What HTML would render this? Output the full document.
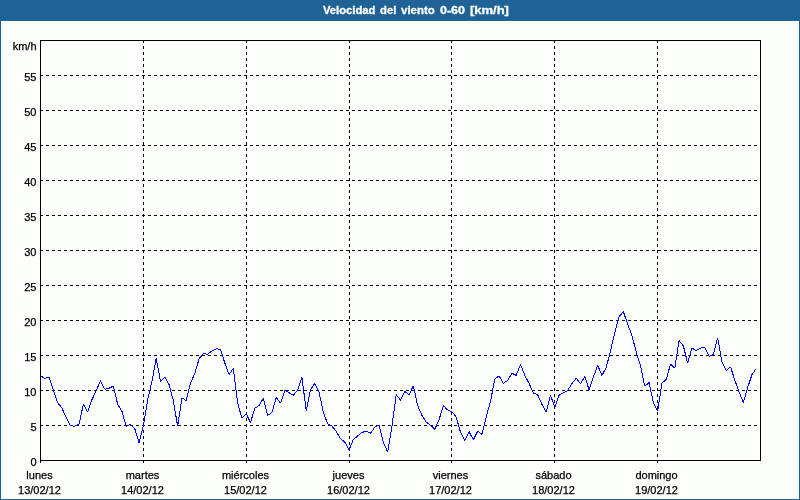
<!DOCTYPE html>
<html><head><meta charset="utf-8"><title>Velocidad del viento</title>
<style>
html,body{margin:0;padding:0;}
body{width:800px;height:500px;overflow:hidden;background:#1e6296;position:relative;font-family:"Liberation Sans","DejaVu Sans",sans-serif;font-size:11px;color:#000;-webkit-text-stroke:0.25px #000;}
#hdr{position:absolute;left:0;top:0;width:800px;height:21px;background:#1e6296;color:#fff;font-weight:bold;font-size:11px;line-height:20px;text-align:center;-webkit-text-stroke:0.3px #fff;}
#hdr span{position:absolute;top:0;white-space:nowrap;transform-origin:0 0;}
#bg{position:absolute;left:1px;top:21px;width:798px;height:478px;background:#fcfefc;}
.yl{position:absolute;left:0;width:36.5px;text-align:right;line-height:14px;height:14px;white-space:nowrap;}
.xl{position:absolute;width:100px;text-align:center;line-height:14px;height:14px;white-space:nowrap;}
</style></head><body>
<div id="hdr"><span style="left:322.6px;transform:scaleX(1.02)">Velocidad</span> <span style="left:380.1px;transform:scaleX(1.025)">del</span> <span style="left:400.9px;transform:scaleX(1.046)">viento</span> <span style="left:439.7px;transform:scaleX(1.136)">0-60</span> <span style="left:469.8px;transform:scaleX(1.18)">[km/h]</span></div>
<div id="bg"></div>
<svg width="800" height="500" viewBox="0 0 800 500" style="position:absolute;left:0;top:0" shape-rendering="crispEdges">
<line x1="40" y1="425.5" x2="760" y2="425.5" stroke="#000" stroke-width="1" stroke-dasharray="3 3"/>
<line x1="40" y1="390.5" x2="760" y2="390.5" stroke="#000" stroke-width="1" stroke-dasharray="3 3"/>
<line x1="40" y1="355.5" x2="760" y2="355.5" stroke="#000" stroke-width="1" stroke-dasharray="3 3"/>
<line x1="40" y1="320.5" x2="760" y2="320.5" stroke="#000" stroke-width="1" stroke-dasharray="3 3"/>
<line x1="40" y1="285.5" x2="760" y2="285.5" stroke="#000" stroke-width="1" stroke-dasharray="3 3"/>
<line x1="40" y1="250.5" x2="760" y2="250.5" stroke="#000" stroke-width="1" stroke-dasharray="3 3"/>
<line x1="40" y1="215.5" x2="760" y2="215.5" stroke="#000" stroke-width="1" stroke-dasharray="3 3"/>
<line x1="40" y1="180.5" x2="760" y2="180.5" stroke="#000" stroke-width="1" stroke-dasharray="3 3"/>
<line x1="40" y1="145.5" x2="760" y2="145.5" stroke="#000" stroke-width="1" stroke-dasharray="3 3"/>
<line x1="40" y1="110.5" x2="760" y2="110.5" stroke="#000" stroke-width="1" stroke-dasharray="3 3"/>
<line x1="40" y1="75.5" x2="760" y2="75.5" stroke="#000" stroke-width="1" stroke-dasharray="3 3"/>
<line x1="143.5" y1="40" x2="143.5" y2="464" stroke="#000" stroke-width="1" stroke-dasharray="3 3"/>
<line x1="246.5" y1="40" x2="246.5" y2="464" stroke="#000" stroke-width="1" stroke-dasharray="3 3"/>
<line x1="349.5" y1="40" x2="349.5" y2="464" stroke="#000" stroke-width="1" stroke-dasharray="3 3"/>
<line x1="451.5" y1="40" x2="451.5" y2="464" stroke="#000" stroke-width="1" stroke-dasharray="3 3"/>
<line x1="554.5" y1="40" x2="554.5" y2="464" stroke="#000" stroke-width="1" stroke-dasharray="3 3"/>
<line x1="657.5" y1="40" x2="657.5" y2="464" stroke="#000" stroke-width="1" stroke-dasharray="3 3"/>
<line x1="40.5" y1="460" x2="40.5" y2="463" stroke="#000" stroke-width="1"/>
<rect x="40.5" y="40.5" width="720" height="420" fill="none" stroke="#000" stroke-width="1"/>
<polyline points="41.0,376.2 44.79,378.3 49.07,377.4 53.36,390.3 57.64,402.7 61.93,408 66.21,417.7 70.5,425.7 74.79,426.3 79.07,424.2 83.36,404.2 87.64,412.2 91.93,399.7 96.21,390.7 100.5,380.7 104.79,389.2 109.07,388.2 113.36,386.2 117.64,404.2 121.93,411.3 126.21,426.3 130.5,424.2 134.79,428.7 139.07,442.8 143.36,425.7 147.64,400 151.93,381.5 156.21,358.2 160.5,381.5 164.79,377 169.07,384.5 173.36,400.7 177.64,426.2 181.93,398 186.21,400.5 190.5,383.25 194.79,373.5 199.07,358.8 203.36,353.7 207.64,354.3 211.93,351 216.21,348.75 220.5,349.5 224.79,363 229.07,374.5 233.36,368.25 237.64,403 241.93,418.3 246.21,413.7 250.5,422.5 254.79,408.3 259.07,405.5 263.36,398.25 267.64,415.5 271.93,412.5 276.21,397.5 280.5,403.2 284.79,390.3 289.07,392.7 293.36,395.25 297.64,390 301.93,377.25 306.21,410.7 310.5,390 314.79,383.25 319.07,392.25 323.36,412.5 327.64,423.75 331.93,426 336.21,431.25 340.5,438.75 344.79,442 349.07,449.7 353.36,439.4 357.64,436 361.93,432.4 366.21,431.3 370.5,433.25 374.79,427.25 379.07,425 383.36,442.25 387.64,452 391.93,426.5 396.21,394.7 400.5,400.25 404.79,391.25 409.07,395 413.36,385.7 417.64,405.5 421.93,415.25 426.21,422 430.5,425.3 434.79,429.2 439.07,419.75 443.36,405.5 447.64,410 451.93,411.6 456.21,417.2 460.5,432.2 464.79,440.7 469.07,431.7 473.36,439.9 477.64,431.25 481.93,434.2 486.21,417 490.5,401.25 494.79,379.2 499.07,375.8 503.36,383.4 507.64,380.4 511.93,373.2 516.21,375.4 520.5,364.5 524.79,375.3 529.07,383.4 533.36,393 537.64,394.6 541.93,404.25 546.21,412.2 550.5,395.25 554.79,407.25 559.07,395.25 563.36,392.8 567.64,390.5 571.93,383.7 576.21,378.3 580.5,383.7 584.79,376.5 589.07,389.7 593.36,377.25 597.64,365.25 601.93,375.45 606.21,367.5 610.5,350.8 614.79,332.5 619.07,316.5 623.36,311.7 627.64,324 631.93,335.5 636.21,352 640.5,366 644.79,386.25 649.07,382.5 653.36,402.6 657.64,411 661.93,383.1 666.21,379.5 670.5,364.3 674.79,368 679.07,340.7 683.36,345.8 687.64,363.2 691.93,348.2 696.21,350.45 700.5,348.2 704.79,347.3 709.07,356.3 713.36,354.5 717.64,337.7 721.93,362 726.21,370.55 730.5,366.8 734.79,380 739.07,392 743.36,402.5 747.64,387.5 751.93,374.75 756.21,368.45" fill="none" stroke="#0000ff" stroke-width="1" stroke-linejoin="bevel"/>
</svg>
<div class="yl" style="top:39px">km/h</div>
<div class="yl" style="top:455px">0</div>
<div class="yl" style="top:420px">5</div>
<div class="yl" style="top:385px">10</div>
<div class="yl" style="top:350px">15</div>
<div class="yl" style="top:315px">20</div>
<div class="yl" style="top:280px">25</div>
<div class="yl" style="top:245px">30</div>
<div class="yl" style="top:210px">35</div>
<div class="yl" style="top:175px">40</div>
<div class="yl" style="top:140px">45</div>
<div class="yl" style="top:105px">50</div>
<div class="yl" style="top:70px">55</div>
<div class="xl" style="left:-10.5px;top:468px">lunes</div>
<div class="xl" style="left:-10.5px;top:483px">13/02/12</div>
<div class="xl" style="left:92.5px;top:468px">martes</div>
<div class="xl" style="left:92.5px;top:483px">14/02/12</div>
<div class="xl" style="left:195.5px;top:468px">miércoles</div>
<div class="xl" style="left:195.5px;top:483px">15/02/12</div>
<div class="xl" style="left:298.5px;top:468px">jueves</div>
<div class="xl" style="left:298.5px;top:483px">16/02/12</div>
<div class="xl" style="left:400.5px;top:468px">viernes</div>
<div class="xl" style="left:400.5px;top:483px">17/02/12</div>
<div class="xl" style="left:503.5px;top:468px">sábado</div>
<div class="xl" style="left:503.5px;top:483px">18/02/12</div>
<div class="xl" style="left:606.5px;top:468px">domingo</div>
<div class="xl" style="left:606.5px;top:483px">19/02/12</div>
</body></html>
